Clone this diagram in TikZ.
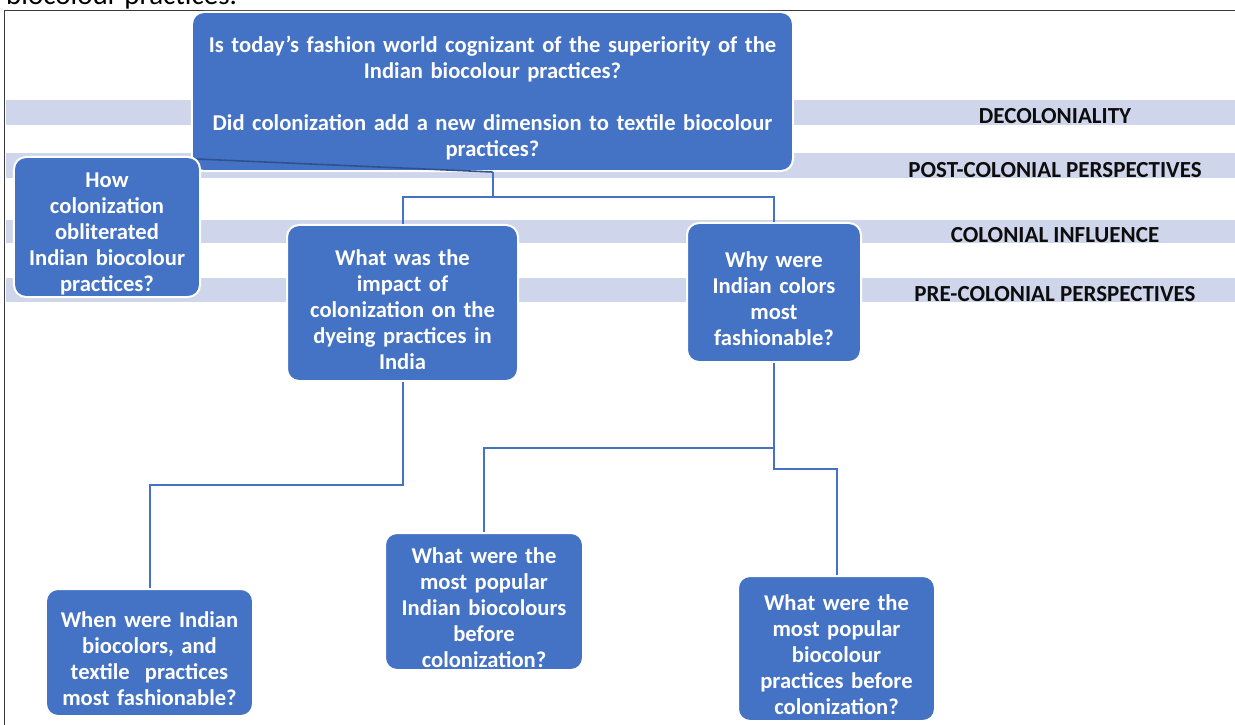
\documentclass[tikz,border=0pt]{standalone}
\usepackage{fontspec}
\setmainfont{Carlito}
\usetikzlibrary{calc}
\definecolor{boxblue}{HTML}{4472C4}
\definecolor{bandcol}{HTML}{CFD5EA}
\definecolor{linkblue}{HTML}{4472C4}
\definecolor{linkdark}{HTML}{2F528F}
\definecolor{framecol}{HTML}{3B3B3B}
% tall invisible strut that pushes a box's text block down a little
\newcommand{\txtpad}{\rule{0pt}{29bp}}
\begin{document}
\begin{tikzpicture}[x=1bp,y=-1bp,
  qbox/.style={fill=boxblue, draw=white, line width=2bp, rounded corners=12bp,
    text=white, font=\bfseries\fontsize{22.6bp}{26bp}\selectfont,
    align=center, inner sep=0pt},
  band/.style={fill=bandcol, draw=none},
  bandlabel/.style={anchor=base, text=black!95,
    font=\bfseries\fontsize{23bp}{26bp}\selectfont, inner sep=0pt},
  conn/.style={draw=linkblue, line width=2bp},
  conndark/.style={draw=linkdark, line width=1.6bp}]
\useasboundingbox (0,0) rectangle (1235,725);

% caption text of the page above, cut by the frame edge
\begin{scope}
  \clip (0,0) rectangle (1235,725);
  \node[anchor=base west, inner sep=0pt, font=\fontsize{29bp}{32bp}\selectfont]
    (caption) at (6,5) {biocolour practices.};
\end{scope}

% frame
\draw[framecol, line width=1.3bp] (1235,10.5) -- (4.5,10.5) -- (4.5,725);

% period bands
\fill[band] (5.5,100) rectangle (1235,125);
\fill[band] (5.5,153) rectangle (1235,178);
\fill[band] (5.5,220) rectangle (1235,243);
\fill[band] (5.5,278) rectangle (1235,302);

\node[bandlabel] (lbl1) at (1055,124) {DECOLONIALITY};
\node[bandlabel] (lbl2) at (1055,177.5) {POST-COLONIAL PERSPECTIVES};
\node[bandlabel] (lbl3) at (1055,243) {COLONIAL INFLUENCE};
\node[bandlabel] (lbl4) at (1055,301.5) {PRE-COLONIAL PERSPECTIVES};

% junction points of the tree
\coordinate (j1) at (492.5,197);
\coordinate (j2) at (402.5,485);
\coordinate (j3) at (774,448);
\coordinate (j4) at (774,469);

% question boxes
\node[qbox, minimum width=601bp, minimum height=159bp, text width=601bp] (top) at (492.5,91.5)
  {\txtpad Is today’s fashion world cognizant of the superiority of the\\
   Indian biocolour practices?\\[26bp]
   Did colonization add a new dimension to textile biocolour\\
   practices?};

\node[qbox, minimum width=231bp, minimum height=156bp, text width=231bp] (mq) at (402.5,303)
  {\txtpad What was the\\impact of\\colonization on the\\dyeing practices in\\India};
\node[qbox, minimum width=174bp, minimum height=139bp, text width=174bp] (rq) at (774,292.5)
  {\txtpad Why were\\Indian colors\\most\\fashionable?};
\node[qbox, minimum width=207bp, minimum height=127bp, text width=207bp] (blq) at (149.5,652.5)
  {\txtpad When were Indian\\biocolors, and\\textile\ \ practices\\most fashionable?};
\node[qbox, minimum width=198bp, minimum height=137bp, text width=198bp] (bmq) at (484,601.5)
  {\txtpad What were the\\most popular\\Indian biocolours\\before\\colonization?};
\node[qbox, minimum width=197bp, minimum height=145bp, text width=197bp] (brq) at (836.5,648.5)
  {\txtpad What were the\\most popular\\biocolour\\practices before\\colonization?};

% connectors
\draw[conn] (top.south) -- (j1);
\draw[conn] (j1) -| (mq.north);
\draw[conn] (j1) -| (rq.north);
\draw[conn] (mq.south) -- (j2) -| (blq.north);
\draw[conn] (rq.south) -- (j3) -| (bmq.north);
\draw[conn] (j3) -- (j4) -| (brq.north);

% left box sits over the top box; its link runs across the top box
\draw[conndark] (top.south) -- (197,159) coordinate (lqcorner);
\node[qbox, minimum width=186bp, minimum height=140bp, text width=186bp] (lq) at (107,227)
  {\txtpad How\\colonization\\obliterated\\Indian biocolour\\practices?};
\end{tikzpicture}
\end{document}
